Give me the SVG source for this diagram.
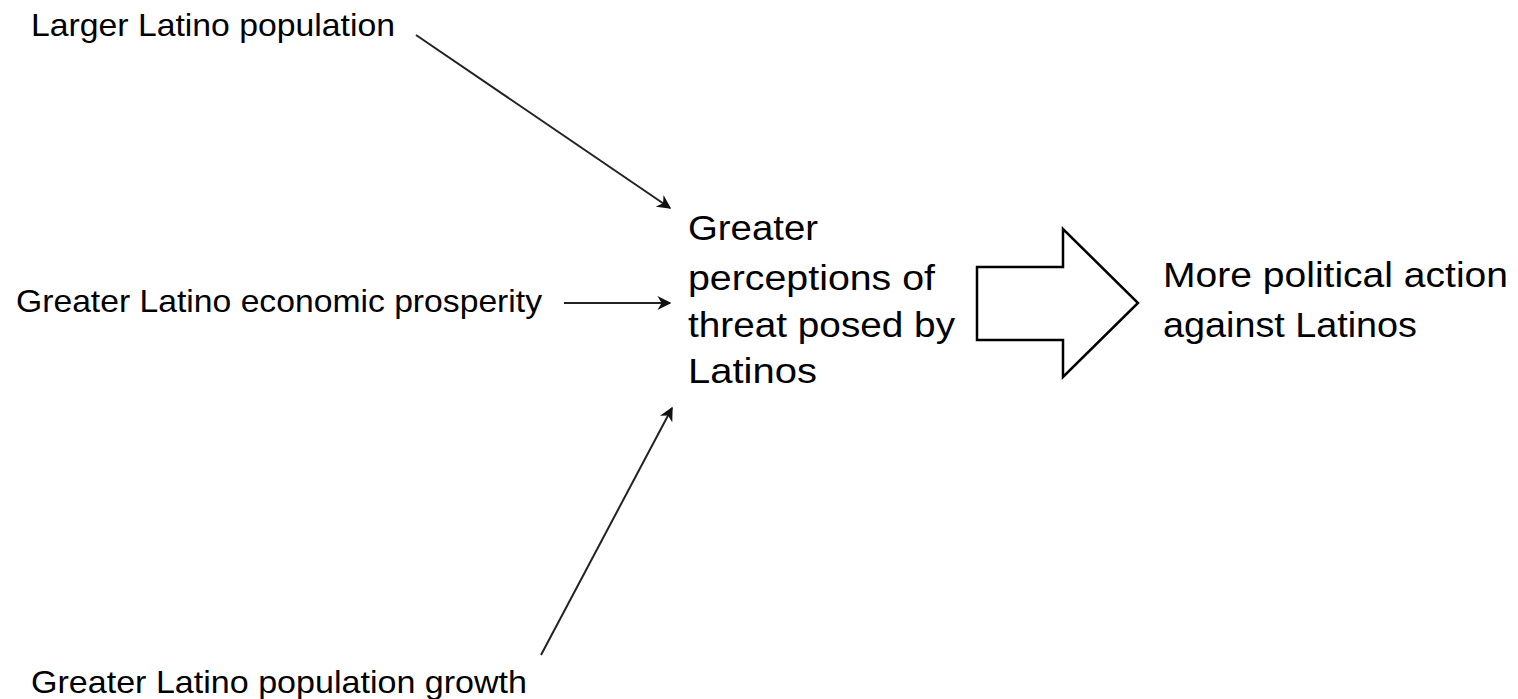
<svg xmlns="http://www.w3.org/2000/svg" width="1518" height="699" viewBox="0 0 1518 699">
<style>
.t{font-family:"Liberation Sans",Arial,sans-serif;fill:#000}
.s{font-size:32px}
.b{font-size:35px}
.c{stroke:#222;stroke-width:2;fill:none}
</style>
<defs>
<marker id="ah" viewBox="0 0 10 10" refX="9" refY="5" markerWidth="7" markerHeight="7" orient="auto" markerUnits="strokeWidth">
<path d="M0,0 L10,5 L0,10 L3,5 Z" fill="#111"/>
</marker>
</defs>
<rect width="1518" height="699" fill="#fff"/>
<g id="n1"><text class="t s" x="31" y="36" textLength="364" lengthAdjust="spacingAndGlyphs">Larger Latino population</text></g>
<g id="n2"><text class="t s" x="16" y="312" textLength="526" lengthAdjust="spacingAndGlyphs">Greater Latino economic prosperity</text></g>
<g id="n3"><text class="t s" x="31" y="693" textLength="496" lengthAdjust="spacingAndGlyphs">Greater Latino population growth</text></g>
<g id="n4">
<text class="t b" x="688" y="240" textLength="130" lengthAdjust="spacingAndGlyphs">Greater</text>
<text class="t b" x="688" y="290" textLength="247" lengthAdjust="spacingAndGlyphs">perceptions of</text>
<text class="t b" x="688" y="337" textLength="267" lengthAdjust="spacingAndGlyphs">threat posed by</text>
<text class="t b" x="688" y="383" textLength="129" lengthAdjust="spacingAndGlyphs">Latinos</text>
</g>
<g id="n5">
<text class="t b" x="1163" y="287" textLength="345" lengthAdjust="spacingAndGlyphs">More political action</text>
<text class="t b" x="1163" y="337" textLength="254" lengthAdjust="spacingAndGlyphs">against Latinos</text>
</g>
<g id="connectors">
<line class="c" x1="416" y1="35" x2="670" y2="208" marker-end="url(#ah)"/>
<line class="c" x1="564" y1="303" x2="670" y2="303" stroke-width="2.6" marker-end="url(#ah)"/>
<line class="c" x1="541" y1="655" x2="672" y2="408" marker-end="url(#ah)"/>
<path d="M977,267 L1063,267 L1063,229 L1138,303 L1063,377 L1063,340 L977,340 Z" fill="#fff" stroke="#000" stroke-width="2.5" stroke-linejoin="miter"/>
</g>
</svg>
